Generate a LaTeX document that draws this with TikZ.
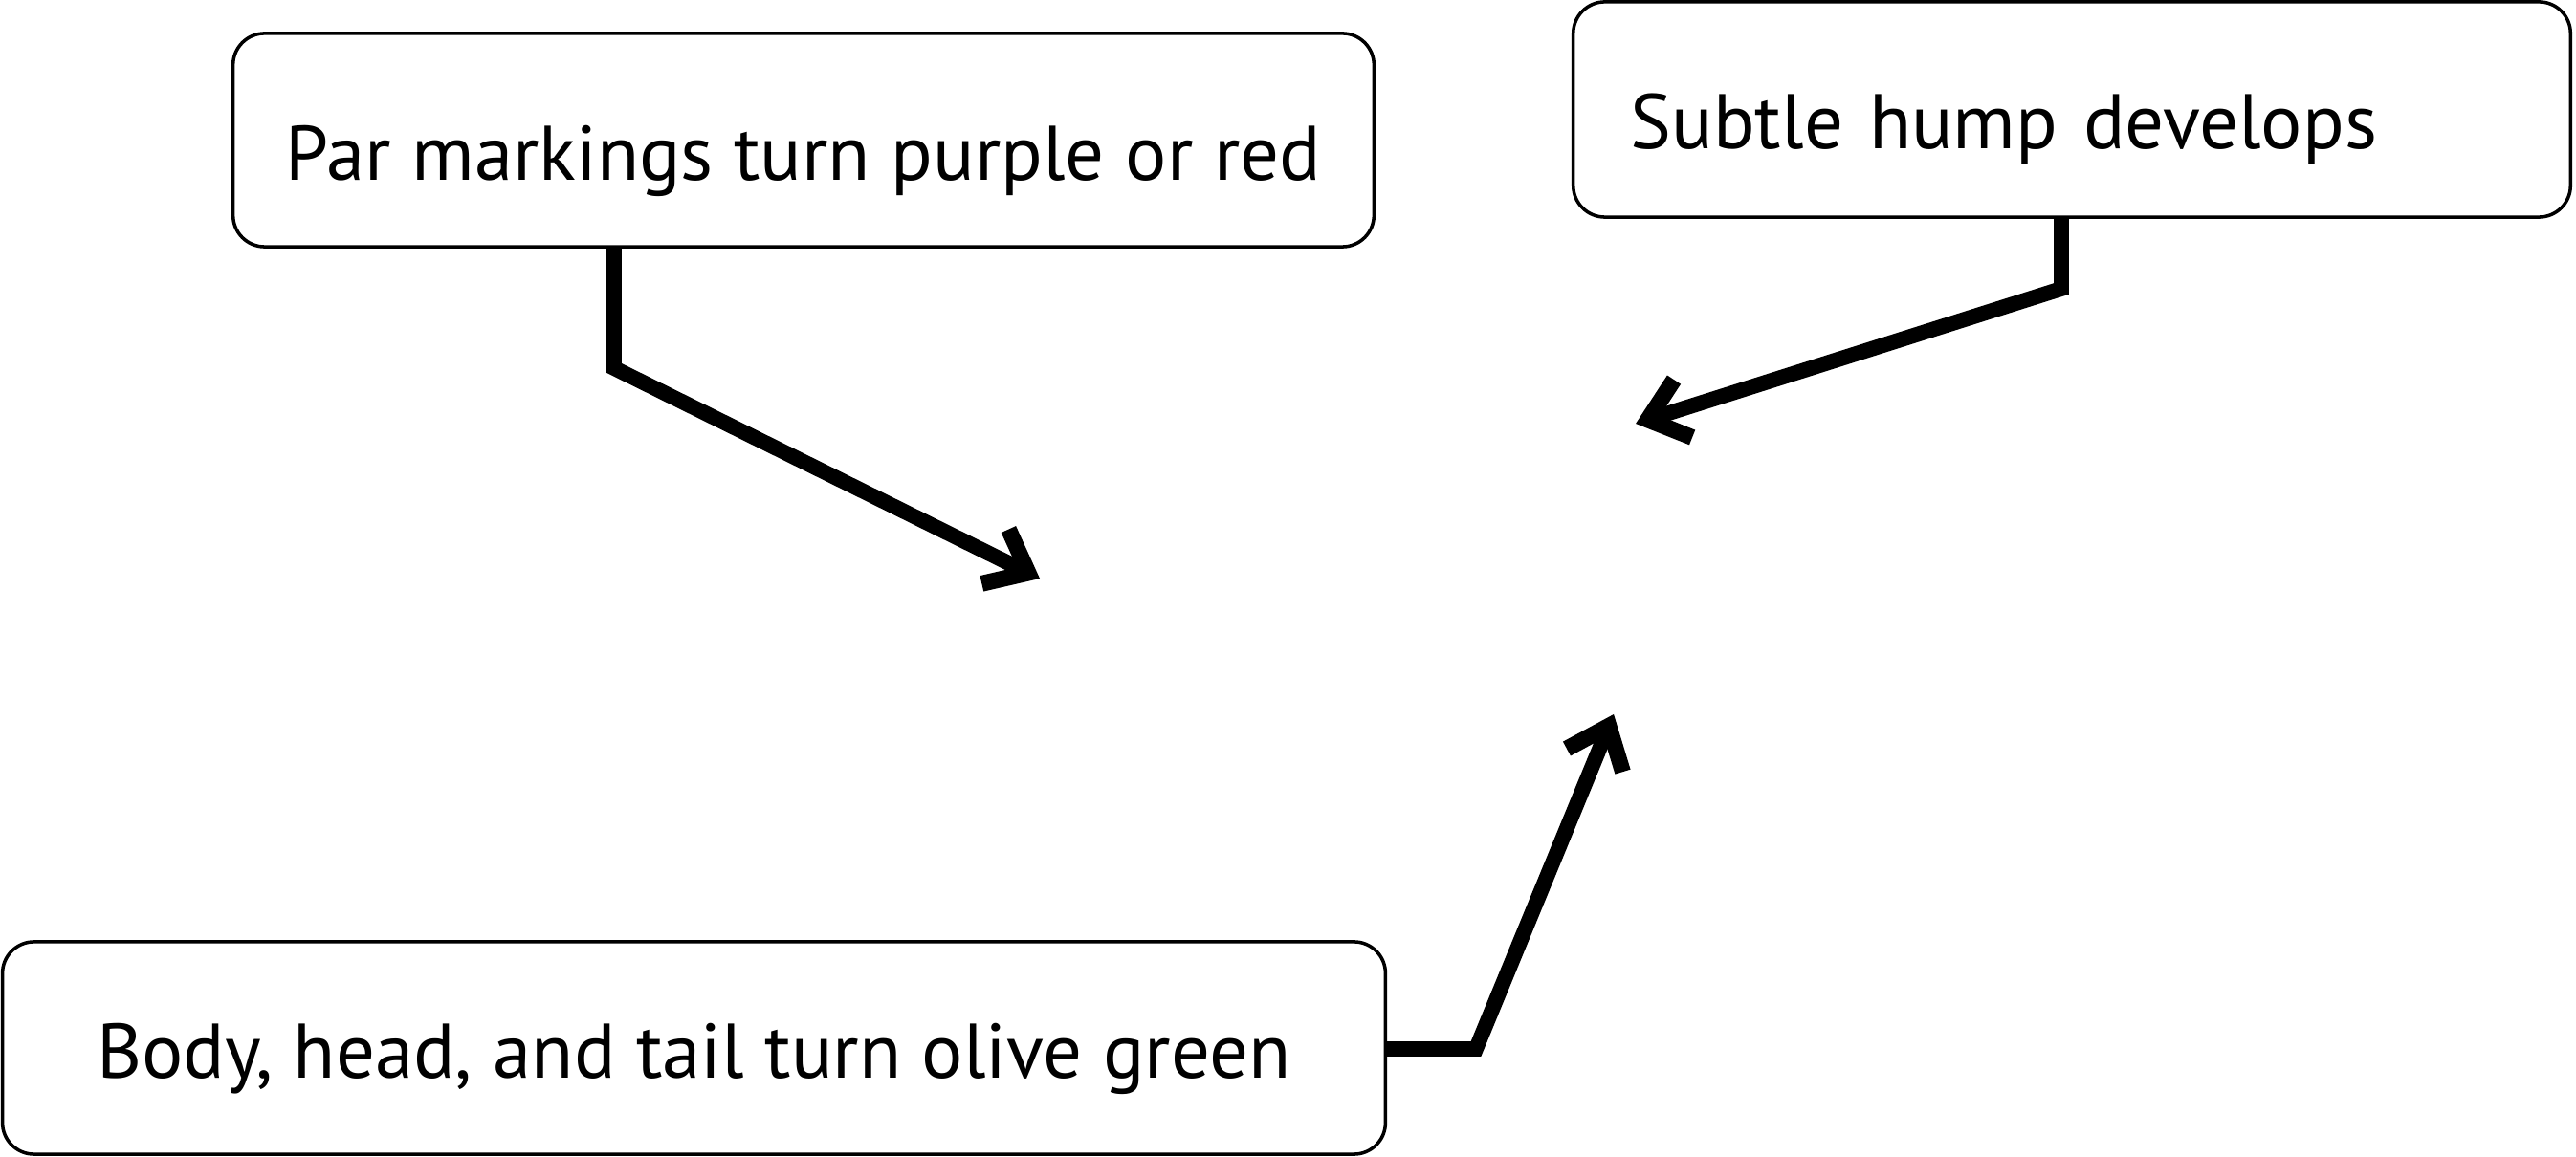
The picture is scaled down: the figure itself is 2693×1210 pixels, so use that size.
\documentclass[tikz,border=0pt]{standalone}
\usepackage{fontspec}
\setmainfont{PT Sans}
\usetikzlibrary{arrows.meta}
\begin{document}
\begin{tikzpicture}[x=0.01cm,y=-0.01cm,
  box/.style={draw=black, line width=1pt, rounded corners=0.33cm, fill=white,
    font=\fontsize{23}{28}\selectfont, inner sep=0pt, text depth=0pt},
  conn/.style={draw=black, line width=4.5pt, line join=miter,
    -{Straight Barb[length=11pt,width=18pt,line width=4.8pt]}}]
\useasboundingbox (0,0) rectangle (2693,1210);
\fill[white] (0,0) rectangle (2693,1210);
\node[box, minimum width=11.92cm, minimum height=2.23cm, text height=0.83cm] (b1) at (840,146.5) {Par markings turn purple or red};
\node[box, minimum width=10.42cm, minimum height=2.25cm, text height=0.81cm, text width=9.22cm, align=left, inner xsep=0.6cm] (b2) at (2166,114.5) {Subtle hump develops};
\node[box, minimum width=14.45cm, minimum height=2.22cm, text height=0.62cm] (b3) at (725.5,1096) {Body, head, and tail turn olive green};
\coordinate (c1) at (642,385);
\coordinate (t1) at (1087,605);
\coordinate (c2) at (2155,302);
\coordinate (t2) at (1710,443);
\coordinate (c3) at (1543,1097);
\coordinate (t3) at (1687,747);
\draw[conn] (b1.south -| c1) -- (c1) -- (t1);
\draw[conn] (b2.south -| c2) -- (c2) -- (t2);
\draw[conn] (b3.east |- c3) -- (c3) -- (t3);
\end{tikzpicture}
\end{document}
